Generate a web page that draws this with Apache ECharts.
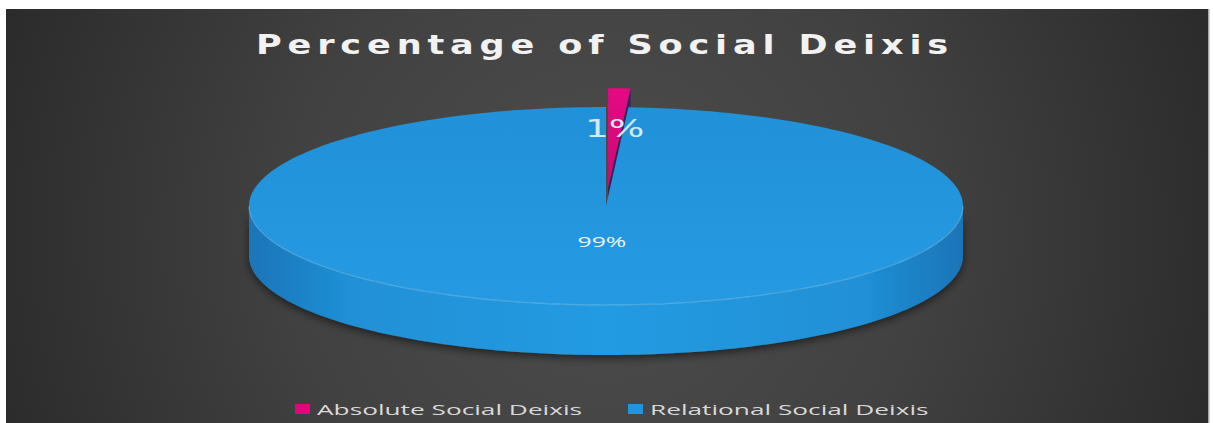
<!DOCTYPE html>
<html>
<head>
<meta charset="utf-8">
<title>Percentage of Social Deixis</title>
<script src="https://cdn.jsdelivr.net/npm/echarts@6/dist/echarts.min.js"></script>
<style>
  html, body { margin: 0; padding: 0; background: #ffffff; }
  #chart { width: 1213px; height: 423px; }
</style>
</head>
<body>
<div id="chart"></div>
<script>
// ---- data ----
const chartTitle = 'Percentage of Social Deixis';
const categories = ['Absolute Social Deixis', 'Relational Social Deixis'];
const shares = [1, 99];

// ---- styling ----
const palette = ['#e0077d', '#2394dc'];
const cutFaceColors = ['#35215e', '#165a92'];
const explodeBy = [0.19, 0];
const labelLook = [
  { r: 0.59, font: '25px "DejaVu Sans"', fill: '#d3ebf8', scaleX: 1.5 },
  { r: 0.36, font: '15px "Open Sans"', fill: '#f1f7fb', scaleX: 1.65 }
];

// tilted pie: ellipse radii, centre and rim thickness in px
const pie = { cx: 606, cy: 206, rx: 357, ry: 99, depth: 50 };

const total = shares.reduce((a, b) => a + b, 0);
const rad = d => d * Math.PI / 180;
function startAngle(i) {
  let s = 0;
  for (let j = 0; j < i; j++) s += shares[j];
  return s / total * 360;
}

function topFill(i) {
  if (i === 0) {
    return { type: 'linear', x: 0, y: 0, x2: 0, y2: 1,
      colorStops: [{ offset: 0, color: '#e40a82' }, { offset: 1, color: '#cf0776' }] };
  }
  return { type: 'linear', x: 0, y: 0, x2: 0, y2: 1,
    colorStops: [{ offset: 0, color: '#2191d9' }, { offset: 1, color: '#259ae2' }] };
}
function wallFill(i) {
  const c = i === 0 ? ['#7a0b48', '#b8086c', '#d0077a'] : ['#1a74b8', '#2090d6', '#239be2'];
  return { type: 'linear', x: 0, y: 0, x2: 1, y2: 0,
    colorStops: [
      { offset: 0, color: c[0] }, { offset: 0.14, color: c[1] },
      { offset: 0.5, color: c[2] }, { offset: 0.86, color: c[1] },
      { offset: 1, color: c[0] }
    ] };
}

// one slice of the tilted pie, angles clockwise from 12 o'clock
function sliceRenderer(i) {
  return function (params, api) {
    const value = api.value(0);
    const a0 = startAngle(i);
    const a1 = a0 + value / total * 360;
    const mid = (a0 + a1) / 2;
    const cx = pie.cx + pie.rx * explodeBy[i] * Math.sin(rad(mid));
    const cy = pie.cy - pie.ry * explodeBy[i] * Math.cos(rad(mid));
    const D = pie.depth;
    const pt = (a, h, r) => {
      const k = r == null ? 1 : r;
      return [cx + pie.rx * k * Math.sin(rad(a)), cy - pie.ry * k * Math.cos(rad(a)) + h];
    };
    const arc = (from, to, h) => {
      const n = Math.max(2, Math.ceil(Math.abs(to - from) / 1.5));
      const out = [];
      for (let k = 0; k <= n; k++) out.push(pt(from + (to - from) * k / n, h));
      return out;
    };
    const children = [];
    // radial cut faces
    [a0, a1].forEach(a => {
      children.push({
        type: 'polygon', z2: 0,
        shape: { points: [[cx, cy], pt(a, 0), pt(a, D), [cx, cy + D]] },
        style: { fill: cutFaceColors[i] }
      });
    });
    // front part of the outer rim
    const w0 = Math.max(a0, 90), w1 = Math.min(a1, 270);
    if (w1 > w0) {
      children.push({
        type: 'polygon', z2: 1,
        shape: { points: arc(w0, w1, 0).concat(arc(w1, w0, D)) },
        style: { fill: wallFill(i), shadowBlur: 8, shadowColor: 'rgba(0,0,0,0.55)', shadowOffsetY: 3 }
      });
    }
    // top face
    children.push({
      type: 'polygon', z2: 2,
      shape: { points: [[cx, cy]].concat(arc(a0, a1, 0)) },
      style: { fill: topFill(i) }
    });
    if (w1 > w0) {
      children.push({
        type: 'polyline', z2: 3,
        shape: { points: arc(w0, w1, 0) },
        style: { stroke: 'rgba(150,212,252,0.4)', lineWidth: 1.2, fill: null }
      });
    }
    // percentage label
    const look = labelLook[i];
    const lp = pt(mid, 0, look.r);
    children.push({
      type: 'text', z2: 10, x: lp[0], y: lp[1], scaleX: look.scaleX,
      style: { text: value + '%', font: look.font, fill: look.fill, align: 'center', verticalAlign: 'middle' }
    });
    return { type: 'group', children: children };
  };
}

// draw the large slice first, the small exploded one on top
const series = categories.map((name, i) => ({
  type: 'custom',
  name: name,
  coordinateSystem: 'none',
  silent: true,
  data: [[shares[i]]],
  renderItem: sliceRenderer(i)
}));

const legendBoxX = [295, 628];
const legendItems = [];
categories.forEach((name, i) => {
  legendItems.push({
    type: 'rect', silent: true,
    shape: { x: legendBoxX[i], y: 404, width: 15, height: 10 },
    style: { fill: palette[i] }
  });
  legendItems.push({
    type: 'text', silent: true, x: legendBoxX[i] + 22, y: 409, scaleX: 1.75,
    style: { text: name, font: '15px "Open Sans"', fill: '#d9d9d9', align: 'left', verticalAlign: 'middle' }
  });
});

const chart = echarts.init(document.getElementById('chart'), null, { renderer: 'svg' });
chart.setOption({
  animation: false,
  backgroundColor: '#ffffff',
  graphic: [
    {
      type: 'rect', silent: true, z: -10,
      shape: { x: 6, y: 9, width: 1202, height: 414 },
      style: {
        fill: {
          type: 'radial', x: 606, y: 235, r: 640, global: true,
          colorStops: [
            { offset: 0, color: '#4d4d4d' },
            { offset: 0.5, color: '#414141' },
            { offset: 1, color: '#2b2b2b' }
          ]
        }
      }
    },
    {
      type: 'rect', silent: true, z: -9,
      shape: { x: 1208, y: 9, width: 1.5, height: 414 },
      style: { fill: '#a8a8a8' }
    },
    {
      type: 'text', silent: true, x: 605, y: 45, scaleX: 1.3,
      style: { text: chartTitle, font: 'bold 27px "DejaVu Sans"', fill: '#f2f2f2', align: 'center', verticalAlign: 'middle' }
    }
  ].concat(legendItems),
  series: series.slice().reverse()
});

// widen the heading's letter spacing
function spaceTitle() {
  document.querySelectorAll('#chart text').forEach(t => {
    if (t.textContent === chartTitle) t.style.letterSpacing = '4.5px';
  });
}
spaceTitle();
chart.on('finished', spaceTitle);
</script>
</body>
</html>
